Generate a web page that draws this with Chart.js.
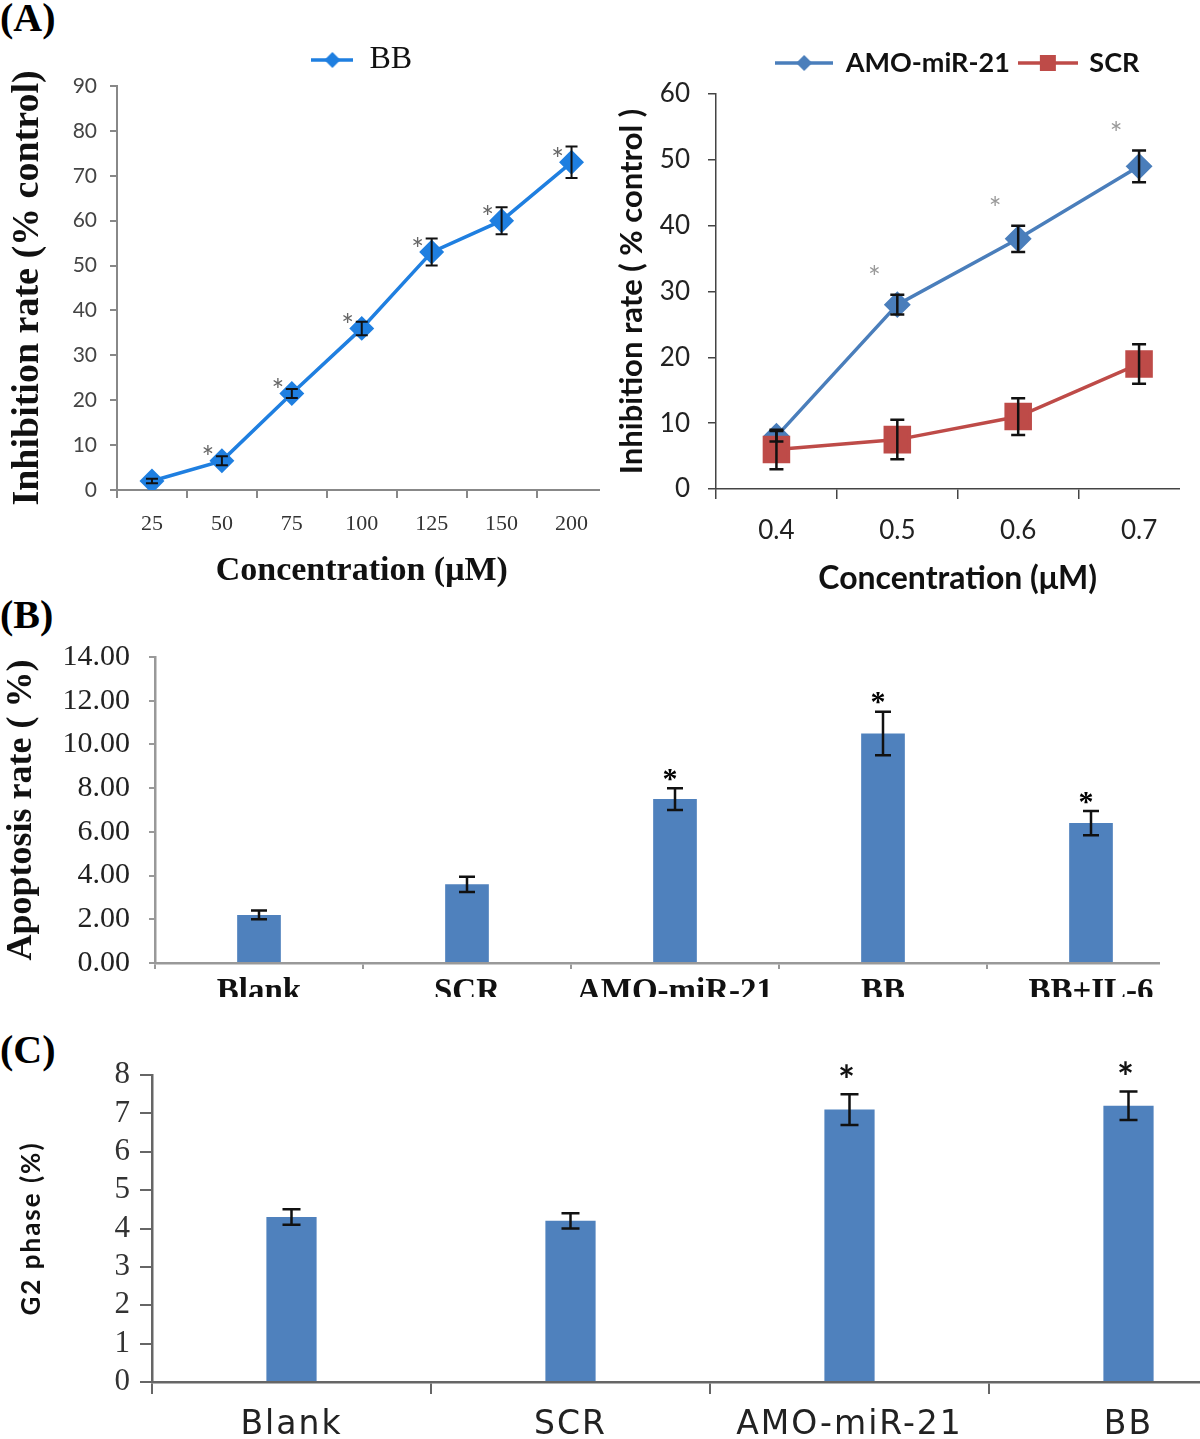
<!DOCTYPE html>
<html>
<head>
<meta charset="utf-8">
<script src="https://cdn.jsdelivr.net/npm/chart.js@4.4.0/dist/chart.umd.min.js"></script>
<style>
body { margin: 0; background: #fff; width: 1200px; height: 1439px; position: relative; overflow: hidden; }
.box { position: absolute; overflow: hidden; }
.panel { position: absolute; left: 0; font-family: "Liberation Serif", "Times New Roman", serif; font-weight: bold; font-size: 40px; color: #000; line-height: 1; }
</style>
</head>
<body>
<div class="panel" style="top:-2px">(A)</div>
<div class="panel" style="top:595px">(B)</div>
<div class="panel" style="top:1030px">(C)</div>

<div class="box" style="left:0;top:0;width:600px;height:600px"><canvas id="chartA1" width="620" height="600"></canvas></div>
<div class="box" style="left:600px;top:0;width:580px;height:600px"><canvas id="chartA2" width="620" height="600"></canvas></div>
<div class="box" style="left:0;top:600px;width:1160px;height:397px"><canvas id="chartB" width="1200" height="400"></canvas></div>
<div class="box" style="left:0;top:1030px;width:1200px;height:409px"><canvas id="chartC" width="1275" height="409"></canvas></div>

<script>
// values
const bbConc = ['25', '50', '75', '100', '125', '150', '200'];
const bbInhib = [2, 6.5, 21.5, 36, 53, 60, 73];
const bbErr = [0.5, 1, 1, 1.5, 3, 3, 3.5];
const bbStar = [false, true, true, true, true, true, true];

const amoConc = ['0.4', '0.5', '0.6', '0.7'];
const amoInhib = [8, 28, 38, 49];
const amoErr = [0.8, 1.5, 2, 2.4];
const amoStar = [false, true, true, true];
const scrInhib = [6, 7.5, 11, 19];
const scrErr = [3, 3, 2.8, 3];

const apoGroups = ['Blank', 'SCR', 'AMO-miR-21', 'BB', 'BB+IL-6'];
const apoRate = [2.2, 3.6, 7.5, 10.5, 6.4];
const apoErr = [0.2, 0.35, 0.5, 1.0, 0.55];
const apoStar = [false, false, true, true, true];

const g2Groups = ['Blank', 'SCR', 'AMO-miR-21', 'BB'];
const g2Rate = [4.3, 4.2, 7.1, 7.2];
const g2Err = [0.2, 0.2, 0.4, 0.37];
const g2Star = [false, false, true, true];

const serif = '"Liberation Serif", "Times New Roman", serif';
const sans = 'Lato, "Open Sans", sans-serif';
const narrow = '"Liberation Sans Narrow", Lato, sans-serif';

Chart.defaults.animation = false;
Chart.defaults.responsive = false;
Chart.defaults.devicePixelRatio = 1;
Chart.defaults.plugins.tooltip.enabled = false;

// draws the error bars and the significance stars on top of the datasets
const errorBars = {
    id: 'errorBars',
    afterDatasetsDraw(chart, args, opts) {
        const ctx = chart.ctx;
        const yScale = chart.scales.y;
        chart.data.datasets.forEach((ds, di) => {
            if (!ds.errors) return;
            const meta = chart.getDatasetMeta(di);
            meta.data.forEach((el, i) => {
                const v = ds.data[i];
                const e = ds.errors[i];
                const top = yScale.getPixelForValue(v + e);
                const bot = yScale.getPixelForValue(v - e);
                ctx.save();
                ctx.strokeStyle = opts.color;
                ctx.lineWidth = opts.width;
                ctx.beginPath();
                ctx.moveTo(el.x, top); ctx.lineTo(el.x, bot);
                ctx.moveTo(el.x - opts.cap, top); ctx.lineTo(el.x + opts.cap, top);
                ctx.moveTo(el.x - opts.cap, bot); ctx.lineTo(el.x + opts.cap, bot);
                ctx.stroke();
                if (ds.stars && ds.stars[i]) {
                    ctx.fillStyle = opts.starColor;
                    ctx.font = opts.starFont;
                    ctx.textAlign = 'center';
                    ctx.textBaseline = 'middle';
                    const base = opts.starFrom === 'point' ? el.y : top;
                    ctx.fillText('*', el.x + opts.starDx, base + opts.starDy);
                }
                ctx.restore();
            });
        });
    }
};

// centre the legend over the plot area instead of the whole canvas
const legendOverArea = {
    id: 'legendOverArea',
    afterLayout(chart) {
        const l = chart.legend;
        if (!l) return;
        l.left = chart.chartArea.left;
        l.right = chart.chartArea.right;
        l.width = l.right - l.left;
    }
};

// wider letter spacing, used for panel C
const spacedText = {
    id: 'spacedText',
    beforeDraw(chart, args, opts) { chart.ctx.letterSpacing = opts.spacing; }
};

// legend icon: a short line with the marker in the middle
function makeIcon(color, shape, w) {
    const c = document.createElement('canvas');
    c.width = w;
    c.height = 24;
    const g = c.getContext('2d');
    g.strokeStyle = color;
    g.fillStyle = color;
    g.lineWidth = 3.5;
    g.beginPath();
    g.moveTo(0, 12); g.lineTo(w, 12);
    g.stroke();
    if (shape === 'diamond') {
        g.beginPath();
        g.moveTo(w / 2, 4); g.lineTo(w / 2 + 8, 12); g.lineTo(w / 2, 20); g.lineTo(w / 2 - 8, 12);
        g.closePath();
        g.fill();
    } else {
        g.fillRect(w / 2 - 8, 4, 16, 16);
    }
    return c;
}

function iconLabels(icons) {
    return function (chart) {
        const items = Chart.defaults.plugins.legend.labels.generateLabels(chart);
        items.forEach(it => { it.pointStyle = icons[it.datasetIndex]; });
        items.sort((a, b) => a.datasetIndex - b.datasetIndex);
        return items;
    };
}

// (A) left: BB inhibition curve
new Chart(document.getElementById('chartA1'), {
    type: 'line',
    data: {
        labels: bbConc,
        datasets: [{
            label: 'BB',
            data: bbInhib,
            errors: bbErr,
            stars: bbStar,
            borderColor: '#1f7fe0',
            backgroundColor: '#1f7fe0',
            borderWidth: 3.5,
            pointStyle: 'rectRot',
            pointRadius: 10,
            pointBackgroundColor: '#1f7fe0',
            pointBorderColor: '#1f7fe0',
            tension: 0
        }]
    },
    options: {
        layout: { padding: { left: 0, right: 6, top: 44, bottom: 0 } },
        plugins: {
            legend: {
                labels: {
                    usePointStyle: true,
                    pointStyleWidth: 42,
                    padding: 0,
                    color: '#111',
                    font: { family: serif, size: 32 },
                    generateLabels: iconLabels([makeIcon('#1f7fe0', 'diamond', 42)])
                }
            },
            errorBars: { color: '#111', width: 2, cap: 6, starColor: '#666', starFont: '30px ' + sans, starFrom: 'point', starDx: -14, starDy: -2 }
        },
        scales: {
            x: {
                offset: true,
                grid: { offset: true, drawOnChartArea: false, tickLength: 8, color: '#888', lineWidth: 2 },
                border: { color: '#888', width: 2 },
                ticks: { font: { family: serif, size: 22 }, color: '#333', padding: 13 },
                title: { display: true, text: 'Concentration (μM)', color: '#111', font: { family: serif, size: 34, weight: 'bold' }, padding: { top: 0, bottom: 8 } },
                afterFit(s) { s.height = 110; }
            },
            y: {
                min: 0,
                max: 90,
                ticks: { stepSize: 10, autoSkip: false, font: { family: narrow, size: 21 }, color: '#444', padding: 13 },
                grid: { drawOnChartArea: false, tickLength: 7, color: '#888', lineWidth: 2 },
                border: { color: '#888', width: 2 },
                title: { display: true, text: 'Inhibition rate (% control)', color: '#111', font: { family: serif, size: 38, weight: 'bold' }, padding: { top: 5, bottom: 0 } },
                afterFit(s) { s.width = 117; }
            }
        }
    },
    plugins: [errorBars, legendOverArea]
});

// (A) right: AMO-miR-21 vs SCR
new Chart(document.getElementById('chartA2'), {
    type: 'line',
    data: {
        labels: amoConc,
        datasets: [{
            label: 'AMO-miR-21',
            data: amoInhib,
            errors: amoErr,
            stars: amoStar,
            borderColor: '#4a7ebb',
            backgroundColor: '#4a7ebb',
            borderWidth: 3.5,
            pointStyle: 'rectRot',
            pointRadius: 11,
            pointBackgroundColor: '#4a7ebb',
            pointBorderColor: '#4a7ebb',
            order: 1
        }, {
            label: 'SCR',
            data: scrInhib,
            errors: scrErr,
            borderColor: '#be4b48',
            backgroundColor: '#be4b48',
            borderWidth: 3.5,
            pointStyle: 'rect',
            pointRadius: 17,
            pointBackgroundColor: '#be4b48',
            pointBorderColor: '#be4b48',
            order: 0
        }]
    },
    options: {
        layout: { padding: { left: 0, right: 6, top: 39.5, bottom: 0 } },
        plugins: {
            legend: {
                labels: {
                    usePointStyle: true,
                    pointStyleWidth: 56,
                    padding: 10,
                    color: '#111',
                    font: { family: sans, size: 27, weight: 'bold' },
                    generateLabels: iconLabels([makeIcon('#4a7ebb', 'diamond', 58), makeIcon('#be4b48', 'square', 60)])
                }
            },
            title: { display: true, text: '', weight: 500, padding: 0, font: { size: 6.2 } },
            errorBars: { color: '#111', width: 2.5, cap: 7, starColor: '#999', starFont: '30px ' + sans, starFrom: 'top', starDx: -23, starDy: -16 }
        },
        scales: {
            x: {
                offset: true,
                grid: { offset: true, drawOnChartArea: false, tickLength: 10, color: '#444', lineWidth: 1.5 },
                border: { color: '#444', width: 1.5 },
                ticks: { font: { family: sans, size: 26 }, color: '#222', padding: 16 },
                title: { display: true, text: 'Concentration (μM)', color: '#111', font: { family: sans, size: 32, weight: 'bold' }, padding: { top: 0, bottom: 2 } },
                afterFit(s) { s.height = 111; }
            },
            y: {
                min: 0,
                max: 60,
                ticks: { stepSize: 10, autoSkip: false, font: { family: sans, size: 26 }, color: '#222', padding: 18 },
                grid: { drawOnChartArea: false, tickLength: 8, color: '#444', lineWidth: 1.5 },
                border: { color: '#444', width: 1.5 },
                title: { display: true, text: 'Inhibition rate ( % control )', color: '#111', font: { family: sans, size: 31, weight: 'bold' }, padding: { top: 13, bottom: 0 } },
                afterFit(s) { s.width = 116; }
            }
        }
    },
    plugins: [errorBars, legendOverArea]
});

// (B) apoptosis rate
new Chart(document.getElementById('chartB'), {
    type: 'bar',
    data: {
        labels: apoGroups,
        datasets: [{
            label: 'Apoptosis rate',
            data: apoRate,
            errors: apoErr,
            stars: apoStar,
            backgroundColor: '#4f81bd',
            categoryPercentage: 1,
            barPercentage: 0.21
        }]
    },
    options: {
        layout: { padding: { left: 0, right: 5, top: 57, bottom: 0 } },
        plugins: {
            legend: { display: false },
            errorBars: { color: '#111', width: 2.5, cap: 8, starColor: '#000', starFont: 'bold 30px ' + serif, starFrom: 'top', starDx: -5, starDy: -8 }
        },
        scales: {
            x: {
                grid: { offset: true, drawOnChartArea: false, tickLength: 6, color: '#999', lineWidth: 2 },
                border: { color: '#999', width: 2.5 },
                ticks: { font: { family: serif, size: 33, weight: 'bold' }, color: '#111', padding: 4 },
                afterFit(s) { s.height = 37; }
            },
            y: {
                min: 0,
                max: 14,
                ticks: { stepSize: 2, autoSkip: false, font: { family: serif, size: 30 }, color: '#222', padding: 19, callback: v => v.toFixed(2) },
                grid: { drawOnChartArea: false, tickLength: 6, color: '#999', lineWidth: 2 },
                border: { color: '#999', width: 2.5 },
                title: { display: true, text: 'Apoptosis rate ( %)', color: '#111', font: { family: serif, size: 36, weight: 'bold' }, padding: { top: 0, bottom: 0 } },
                afterFit(s) { s.width = 155; }
            }
        }
    },
    plugins: [errorBars]
});

// (C) G2 phase
new Chart(document.getElementById('chartC'), {
    type: 'bar',
    data: {
        labels: g2Groups,
        datasets: [{
            label: 'G2 phase',
            data: g2Rate,
            errors: g2Err,
            stars: g2Star,
            backgroundColor: '#4f81bd',
            categoryPercentage: 1,
            barPercentage: 0.18
        }]
    },
    options: {
        layout: { padding: { left: 0, right: 7, top: 45, bottom: 0 } },
        plugins: {
            legend: { display: false },
            spacedText: { spacing: '2px' },
            errorBars: { color: '#111', width: 2.5, cap: 9, starColor: '#111', starFont: 'bold 40px ' + sans, starFrom: 'top', starDx: -2, starDy: -12 }
        },
        scales: {
            x: {
                grid: { offset: true, drawOnChartArea: false, tickLength: 12, color: '#666', lineWidth: 2 },
                border: { color: '#666', width: 2.5 },
                ticks: { font: { family: '"DejaVu Sans", sans-serif', size: 33 }, color: '#222', padding: 12 },
                afterFit(s) { s.height = 57; }
            },
            y: {
                min: 0,
                max: 8,
                ticks: { stepSize: 1, autoSkip: false, font: { family: serif, size: 31 }, color: '#333', padding: 8 },
                grid: { drawOnChartArea: false, tickLength: 12, color: '#666', lineWidth: 2 },
                border: { color: '#666', width: 2.5 },
                title: { display: true, text: 'G2 phase (%)', color: '#111', font: { family: sans, size: 26, weight: 'bold' }, padding: { top: 16.4, bottom: 0 } },
                afterFit(s) { s.width = 152; }
            }
        }
    },
    plugins: [errorBars, spacedText]
});
</script>
</body>
</html>
